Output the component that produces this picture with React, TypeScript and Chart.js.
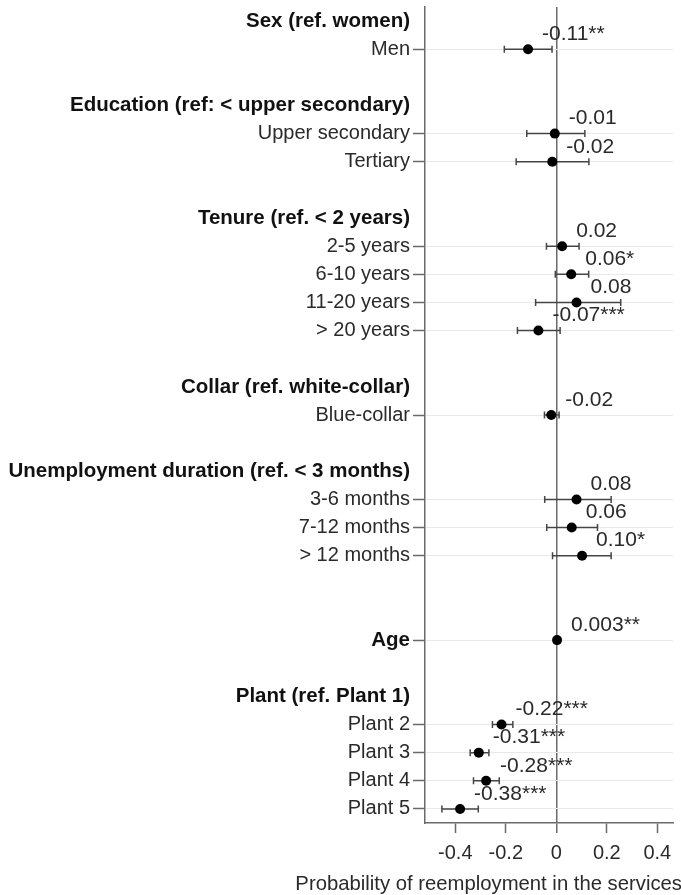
import React, { useEffect, useRef } from 'react';
import { Chart, registerables } from 'chart.js';

Chart.register(...registerables);

// Rows of the coefficient plot, top to bottom ('' = spacer row)
const rowLabels: string[] = [
  'Sex (ref. women)', 'Men', '',
  'Education (ref: < upper secondary)', 'Upper secondary', 'Tertiary', '',
  'Tenure (ref. < 2 years)', '2-5 years', '6-10 years', '11-20 years', '> 20 years', '',
  'Collar (ref. white-collar)', 'Blue-collar', '',
  'Unemployment duration (ref. < 3 months)', '3-6 months', '7-12 months', '> 12 months', '', '',
  'Age', '',
  'Plant (ref. Plant 1)', 'Plant 2', 'Plant 3', 'Plant 4', 'Plant 5',
];

// 'header' = group heading, 'item' = category estimate, 'single' = heading with its own estimate, 'gap' = spacer
const rowKinds: string[] = [
  'header', 'item', 'gap',
  'header', 'item', 'item', 'gap',
  'header', 'item', 'item', 'item', 'item', 'gap',
  'header', 'item', 'gap',
  'header', 'item', 'item', 'item', 'gap', 'gap',
  'single', 'gap',
  'header', 'item', 'item', 'item', 'item',
];

const coefs: (number | null)[] = [
  null, -0.112, null,
  null, -0.006, -0.016, null,
  null, 0.023, 0.059, 0.080, -0.071, null,
  null, -0.020, null,
  null, 0.080, 0.061, 0.102, null, null,
  0.003, null,
  null, -0.217, -0.307, -0.278, -0.381,
];

const ciLow: (number | null)[] = [
  null, -0.206, null,
  null, -0.117, -0.159, null,
  null, -0.039, -0.004, -0.082, -0.154, null,
  null, -0.047, null,
  null, -0.046, -0.038, -0.015, null, null,
  0.002, null,
  null, -0.253, -0.341, -0.328, -0.453,
];

const ciHigh: (number | null)[] = [
  null, -0.017, null,
  null, 0.113, 0.129, null,
  null, 0.090, 0.128, 0.255, 0.015, null,
  null, 0.011, null,
  null, 0.217, 0.163, 0.217, null, null,
  0.004, null,
  null, -0.172, -0.267, -0.226, -0.309,
];

const valueLabels: string[] = [
  '', '-0.11**', '',
  '', '-0.01', '-0.02', '',
  '', '0.02', '0.06*', '0.08', '-0.07***', '',
  '', '-0.02', '',
  '', '0.08', '0.06', '0.10*', '', '',
  '0.003**', '',
  '', '-0.22***', '-0.31***', '-0.28***', '-0.38***',
];

const xTicks: number[] = [-0.4, -0.2, 0, 0.2, 0.4];
const xTitle = 'Probability of reemployment in the services';

const FONT = "'Liberation Sans', Arial, Helvetica, sans-serif";
const AXIS_COLOR = '#6a6a6a';

export default function App() {
  const canvasRef = useRef<HTMLCanvasElement | null>(null);

  useEffect(() => {
    const canvas = canvasRef.current;
    if (!canvas) return;

    const points = coefs
      .map((c, i) => (c === null ? null : { x: c, y: i }))
      .filter((p) => p !== null) as { x: number; y: number }[];

    const overlay = {
      id: 'coefOverlay',
      beforeDatasetsDraw(chart: any) {
        const { ctx } = chart;
        const xs = chart.scales.x;
        const ys = chart.scales.y;
        ctx.save();
        ctx.strokeStyle = '#454545';
        ctx.lineWidth = 1.5;
        coefs.forEach((c, i) => {
          if (c === null) return;
          const lo = ciLow[i] as number;
          const hi = ciHigh[i] as number;
          const yp = ys.getPixelForValue(i);
          const x1 = xs.getPixelForValue(lo);
          const x2 = xs.getPixelForValue(hi);
          ctx.beginPath();
          ctx.moveTo(x1, yp);
          ctx.lineTo(x2, yp);
          ctx.moveTo(x1, yp - 3.5);
          ctx.lineTo(x1, yp + 3.5);
          ctx.moveTo(x2, yp - 3.5);
          ctx.lineTo(x2, yp + 3.5);
          ctx.stroke();
        });
        ctx.restore();
      },
      afterDatasetsDraw(chart: any) {
        const { ctx } = chart;
        const xs = chart.scales.x;
        const ys = chart.scales.y;
        ctx.save();
        ctx.fillStyle = '#2a2a2a';
        ctx.font = `21px ${FONT}`;
        ctx.textAlign = 'left';
        ctx.textBaseline = 'middle';
        coefs.forEach((c, i) => {
          if (c === null) return;
          const xp = xs.getPixelForValue(c);
          const yp = ys.getPixelForValue(i);
          ctx.fillText(valueLabels[i], xp + 14, yp - 15);
        });
        ctx.restore();
      },
      afterDraw(chart: any) {
        const { ctx } = chart;
        ctx.save();
        ctx.fillStyle = '#2a2a2a';
        ctx.font = `20.3px ${FONT}`;
        ctx.textAlign = 'right';
        ctx.textBaseline = 'middle';
        ctx.fillText(xTitle, chart.width + 1, 884);
        ctx.restore();
      },
    };

    const chart = new Chart(canvas, {
      type: 'scatter',
      data: {
        datasets: [
          {
            data: points,
            pointRadius: 5,
            pointHoverRadius: 5,
            pointBackgroundColor: '#000',
            pointBorderColor: '#000',
            pointBorderWidth: 0,
          },
        ],
      },
      plugins: [overlay],
      options: {
        responsive: false,
        devicePixelRatio: 1,
        animation: false,
        events: [],
        layout: { padding: { top: 7, right: 8, left: 0, bottom: 0 } },
        plugins: {
          legend: { display: false },
          tooltip: { enabled: false },
          title: { display: false },
        },
        scales: {
          x: {
            type: 'linear',
            min: -0.52,
            max: 0.462,
            afterBuildTicks: (scale: any) => {
              scale.ticks = xTicks.map((v) => ({ value: v }));
            },
            afterFit: (scale: any) => {
              scale.height = 72;
              scale.paddingLeft = 0;
              scale.paddingRight = 0;
            },
            border: { display: true, color: AXIS_COLOR, width: 1.5 },
            grid: {
              drawOnChartArea: true,
              drawTicks: true,
              tickLength: 10,
              color: (ctx: any) => (ctx.tick && ctx.tick.value === 0 ? AXIS_COLOR : 'rgba(0,0,0,0)'),
              lineWidth: (ctx: any) => (ctx.tick && ctx.tick.value === 0 ? 1.5 : 1),
              tickColor: AXIS_COLOR,
              tickWidth: 1.5,
            },
            ticks: {
              autoSkip: false,
              maxRotation: 0,
              padding: 8,
              color: '#2a2a2a',
              font: { family: FONT, size: 20 },
              callback: (v: any) => (Number(v) === 0 ? '0' : Number(v).toFixed(1)),
            },
          },
          y: {
            type: 'linear',
            reverse: true,
            min: -0.5,
            max: 28.5,
            afterBuildTicks: (scale: any) => {
              scale.ticks = rowLabels
                .map((_, i) => i)
                .filter((i) => rowKinds[i] !== 'gap')
                .map((i) => ({ value: i }));
            },
            afterFit: (scale: any) => {
              scale.width = 425;
              scale.paddingTop = 0;
              scale.paddingBottom = 0;
            },
            border: { display: true, color: AXIS_COLOR, width: 1.5 },
            grid: {
              drawOnChartArea: true,
              drawTicks: true,
              tickLength: 12,
              color: (ctx: any) =>
                ctx.tick && rowKinds[ctx.tick.value] === 'header' ? 'rgba(0,0,0,0)' : '#e9e9e9',
              tickColor: (ctx: any) =>
                ctx.tick && rowKinds[ctx.tick.value] === 'header' ? 'rgba(0,0,0,0)' : AXIS_COLOR,
              lineWidth: 1,
              tickWidth: 1.5,
            },
            ticks: {
              autoSkip: false,
              padding: 3,
              color: (ctx: any) =>
                ctx.tick && rowKinds[ctx.tick.value] !== 'item' ? '#111' : '#2a2a2a',
              font: (ctx: any) => {
                const bold = ctx.tick && rowKinds[ctx.tick.value] !== 'item';
                return { family: FONT, size: bold ? 20.5 : 20, weight: bold ? 'bold' : 'normal' };
              },
              callback: (v: any) => rowLabels[Number(v)] ?? '',
            },
          },
        },
      } as any,
    });

    return () => {
      chart.destroy();
    };
  }, []);

  return (
    <div style={{ position: 'fixed', left: 0, top: 0, width: 681, height: 895, background: '#fff' }}>
      <canvas ref={canvasRef} width={681} height={895} style={{ display: 'block' }} />
    </div>
  );
}
